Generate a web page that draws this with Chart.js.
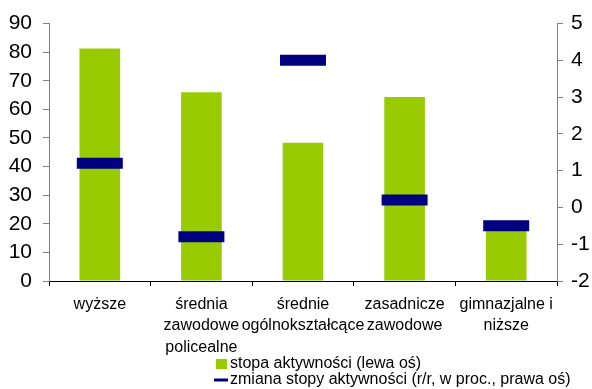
<!DOCTYPE html>
<html>
<head>
<meta charset="utf-8">
<script src="https://cdn.jsdelivr.net/npm/chart.js@4"></script>
<style>
  html, body { margin: 0; padding: 0; background: #fff; }
  #wrap { width: 592px; height: 389px; }
</style>
</head>
<body>
<div id="wrap"><canvas id="chart" width="592" height="389"></canvas></div>
<script>
// education levels
const categories = [
    'wyższe',
    ['średnia', 'zawodowe', 'policealne'],
    ['średnie', 'ogólnokształcące'],
    ['zasadnicze', 'zawodowe'],
    ['gimnazjalne i', 'niższe']
];
// activity rate, left axis
const activityRate = [81.3, 66, 48.3, 64.3, 19];
// y/y change, right axis
const rateChange = [1.2, -0.8, 4.0, 0.2, -0.5];

const seriesNames = [
    'stopa aktywności (lewa oś)',
    'zmiana stopy aktywności (r/r, w proc., prawa oś)'
];

const FONT = 'Arial, "Liberation Sans", sans-serif';
const GREEN = '#99cc00';
const NAVY = '#000080';

// two-row legend under the axis labels
const legendPlugin = {
    id: 'stackedLegend',
    afterDraw(chart) {
        const ctx = chart.ctx;
        ctx.save();
        ctx.font = '16px ' + FONT;
        ctx.textBaseline = 'middle';
        const x0 = 216, y1 = 364, y2 = 380;
        ctx.fillStyle = GREEN;
        ctx.fillRect(x0, y1 - 5, 11, 10);
        ctx.fillStyle = NAVY;
        ctx.fillRect(x0 - 2, y2 - 1.5, 14, 3);
        ctx.fillStyle = '#000';
        ctx.fillText(seriesNames[0], x0 + 14, y1);
        ctx.fillText(seriesNames[1], x0 + 14, y2);
        ctx.restore();
    }
};

new Chart(document.getElementById('chart'), {
    type: 'bar',
    data: {
        labels: categories,
        datasets: [{
            label: seriesNames[1],
            type: 'line',
            data: rateChange,
            yAxisID: 'y1',
            showLine: false,
            pointStyle: 'line',
            pointRadius: 23,
            pointHoverRadius: 23,
            pointBorderWidth: 11,
            pointHoverBorderWidth: 11,
            borderColor: NAVY,
            backgroundColor: NAVY,
            order: 0
        }, {
            label: seriesNames[0],
            data: activityRate,
            yAxisID: 'y',
            backgroundColor: GREEN,
            categoryPercentage: 1,
            barPercentage: 0.4,
            order: 1
        }]
    },
    options: {
        responsive: false,
        animation: false,
        layout: { autoPadding: false, padding: { top: 22, left: 0, right: 0, bottom: 0 } },
        plugins: {
            legend: { display: false },
            tooltip: { enabled: false }
        },
        scales: {
            x: {
                offset: true,
                border: { color: '#000', width: 1 },
                grid: { offset: true, drawOnChartArea: false, tickLength: 5, color: '#000' },
                ticks: {
                    autoSkip: false, maxRotation: 0, padding: 8,
                    color: '#000',
                    font: { family: FONT, size: 16, lineHeight: 1.33 }
                },
                afterFit(scale) { scale.height = 108; }
            },
            y: {
                position: 'left',
                min: 0, max: 90,
                border: { color: '#808080', width: 1 },
                grid: { drawOnChartArea: false, tickLength: 6, color: '#808080' },
                ticks: {
                    stepSize: 10, autoSkip: false, padding: 11, color: '#000',
                    font: { family: FONT, size: 21 }
                },
                afterFit(scale) { scale.width = 49; }
            },
            y1: {
                position: 'right',
                min: -2, max: 5,
                border: { color: '#808080', width: 1 },
                grid: { drawOnChartArea: false, tickLength: 6, color: '#808080' },
                ticks: {
                    stepSize: 1, autoSkip: false, padding: 8, color: '#000',
                    font: { family: FONT, size: 21 }
                },
                afterFit(scale) { scale.width = 35; }
            }
        }
    },
    plugins: [legendPlugin]
});
</script>
</body>
</html>
